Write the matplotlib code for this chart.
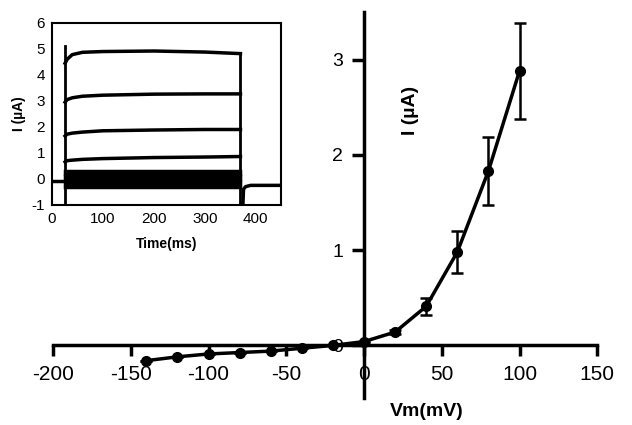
import numpy as np
import matplotlib.pyplot as plt

plt.rcParams['font.family'] = ['Liberation Sans', 'DejaVu Sans']
plt.rcParams['axes.unicode_minus'] = False

# I-V curve (main panel)
vm = [-140, -120, -100, -80, -60, -40, -20, 0, 20, 40, 60, 80, 100]
current = [-0.16, -0.12, -0.09, -0.075, -0.06, -0.03, 0.0, 0.04, 0.14, 0.41, 0.98, 1.83, 2.88]
err = [0, 0, 0, 0, 0, 0, 0, 0, 0.02, 0.09, 0.22, 0.36, 0.5]

# current traces (inset)
t_pre = [0, 24]
i_pre = [-0.1, -0.1]
t_step = [26, 30, 40, 60, 100, 200, 300, 370]
traces = [
    [4.45, 4.6, 4.78, 4.87, 4.9, 4.92, 4.88, 4.82],
    [2.95, 3.05, 3.12, 3.18, 3.22, 3.26, 3.27, 3.27],
    [1.65, 1.72, 1.76, 1.8, 1.85, 1.88, 1.9, 1.9],
    [0.65, 0.7, 0.72, 0.75, 0.78, 0.82, 0.84, 0.86],
    [0.3, 0.3, 0.3, 0.3, 0.3, 0.3, 0.3, 0.3],
    [0.2, 0.2, 0.2, 0.2, 0.2, 0.2, 0.2, 0.2],
    [0.1, 0.1, 0.1, 0.1, 0.1, 0.1, 0.1, 0.1],
    [0.0, 0.0, 0.0, 0.0, 0.0, 0.0, 0.0, 0.0],
    [-0.1, -0.1, -0.1, -0.1, -0.1, -0.1, -0.1, -0.1],
    [-0.2, -0.2, -0.2, -0.2, -0.2, -0.2, -0.2, -0.2],
    [-0.3, -0.3, -0.3, -0.3, -0.3, -0.3, -0.3, -0.3],
]
t_on = [25, 25]
i_on = [-1, 5.1]
t_off = [370, 370]
i_off = [-1, 4.82]
t_tail = [375, 376, 380, 390, 450]
i_tail = [-0.9, -0.4, -0.3, -0.25, -0.25]

fig = plt.figure(figsize=(6.32, 4.25), dpi=100)
ax = fig.add_axes([0.084, 0.064, 0.861, 0.908])

ax.errorbar(vm, current, yerr=err, color='black', lw=2.5, marker='o', ms=7,
            capsize=4, capthick=1.8, elinewidth=1.8)
ax.set_xlim(-200, 150)
ax.set_ylim(-0.55, 3.5)
ax.spines['left'].set_position(('data', 0))
ax.spines['bottom'].set_position(('data', 0))
ax.spines['top'].set_visible(False)
ax.spines['right'].set_visible(False)
for s in ['left', 'bottom']:
    ax.spines[s].set_linewidth(2.5)
ax.set_xticks([-200, -150, -100, -50, 0, 50, 100, 150])
ax.set_yticks([0, 1, 2, 3])
ax.tick_params(axis='x', direction='out', length=8, width=2.5, labelsize=15, pad=6)
ax.tick_params(axis='y', direction='out', length=9, width=2.5, labelsize=14, pad=6)
ax.text(0.656, 0.745, 'I (µA)', transform=ax.transAxes, rotation=90,
        fontsize=14, fontweight='bold', ha='center', va='center')
ax.text(0.617, 0.012, 'Vm(mV)', transform=fig.transFigure,
        fontsize=14, fontweight='bold', ha='left', va='bottom')

# inset
ins = fig.add_axes([0.082, 0.518, 0.363, 0.428])
ins.plot(t_pre, i_pre, color='black', lw=2.5)
for tr in traces:
    ins.plot(t_step, tr, color='black', lw=2.5)
ins.plot(t_on, i_on, color='black', lw=2)
ins.plot(t_off, i_off, color='black', lw=2)
ins.plot(t_tail, i_tail, color='black', lw=2.5)
ins.set_xlim(0, 450)
ins.set_ylim(-1, 6)
ins.set_xticks([0, 100, 200, 300, 400])
ins.set_yticks([-1, 0, 1, 2, 3, 4, 5, 6])
ins.tick_params(length=0, labelsize=11, pad=5)
for s in ins.spines.values():
    s.set_linewidth(1.5)
ins.set_xlabel('Time(ms)', fontsize=10, fontweight='bold', labelpad=8)
ins.set_ylabel('I (µA)', fontsize=10, fontweight='bold', labelpad=4)

fig.savefig('out.png', dpi=100)
